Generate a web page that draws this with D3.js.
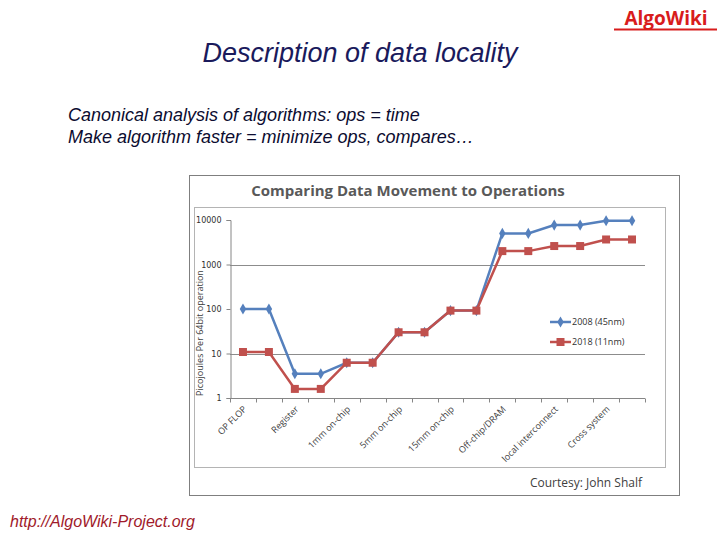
<!DOCTYPE html>
<meta charset="utf-8">
<style>
  body { margin: 0; background: #fff; }
  text { font-family: "Open Sans", "DejaVu Sans", sans-serif; }
  .slide { font-family: "Liberation Sans", Arial, sans-serif; font-style: italic; }
</style>
<body>
<div id="my_dataviz"></div>
<script src="https://d3js.org/d3.v7.min.js"></script>
<script>
// categories (each level shows two points, every second label shown)
var categories = ["OP FLOP", "OP FLOP b", "Register", "Register b", "1mm on-chip", "1mm on-chip b",
  "5mm on-chip", "5mm on-chip b", "15mm on-chip", "15mm on-chip b", "Off-chip/DRAM", "Off-chip/DRAM b",
  "local interconnect", "local interconnect b", "Cross system", "Cross system b"];
var tickLabels = ["OP FLOP", "", "Register", "", "1mm on-chip", "", "5mm on-chip", "",
  "15mm on-chip", "", "Off-chip/DRAM", "", "local interconnect", "", "Cross system", ""];
var values2008 = [100, 100, 3.5, 3.5, 6.2, 6.2, 30, 30, 92, 92, 5000, 5000, 7700, 7700, 9600, 9600];
var values2018 = [10.8, 10.8, 1.6, 1.6, 6.2, 6.2, 30, 30, 92, 92, 2000, 2000, 2600, 2600, 3650, 3650];
var yTicks = [1, 10, 100, 1000, 10000];
var gridValues = [10, 1000];
var seriesNames = ["2008 (45nm)", "2018 (11nm)"];

var svg = d3.select("#my_dataviz").append("svg")
  .attr("width", 720).attr("height", 540);

// slide texts
svg.append("text").attr("x", 666).attr("y", 25)
  .attr("text-anchor", "middle")
  .style("font-family", "'Open Sans', sans-serif").style("font-weight", "bold")
  .style("font-size", "19px").attr("fill", "#d81c1c")
  .text("AlgoWiki");
svg.append("line").attr("x1", 614).attr("x2", 717).attr("y1", 29.5).attr("y2", 29.5)
  .attr("stroke", "#d81c1c").attr("stroke-width", 2);

svg.append("text").attr("class", "slide").attr("x", 360).attr("y", 62)
  .attr("text-anchor", "middle").style("font-size", "27px").attr("fill", "#1a1a5c")
  .text("Description of data locality");

svg.append("text").attr("class", "slide").attr("x", 68).attr("y", 121)
  .style("font-size", "18px").attr("fill", "#0c0c30")
  .text("Canonical analysis of algorithms: ops = time");
svg.append("text").attr("class", "slide").attr("x", 68).attr("y", 143)
  .style("font-size", "18px").attr("fill", "#0c0c30")
  .text("Make algorithm faster = minimize ops, compares\u2026");

svg.append("text").attr("class", "slide").attr("x", 10).attr("y", 527)
  .style("font-size", "16px").attr("fill", "#a01a2a")
  .text("http://AlgoWiki-Project.org");

// chart frames
svg.append("rect").attr("x", 189.5).attr("y", 175.5).attr("width", 490).attr("height", 320)
  .attr("fill", "none").attr("stroke", "#7f7f7f");
svg.append("rect").attr("x", 194.5).attr("y", 207.5).attr("width", 471).attr("height", 260)
  .attr("fill", "none").attr("stroke", "#b4b4b4");

svg.append("text").attr("x", 408).attr("y", 196).attr("text-anchor", "middle")
  .style("font-weight", "bold").style("font-size", "15px").attr("fill", "#595959")
  .text("Comparing Data Movement to Operations");

var x = d3.scaleBand().domain(categories).range([230, 645]);
var y = d3.scaleLog().domain([1, 10000]).range([398, 220]);

// grid
svg.append("g").selectAll("line").data(gridValues).join("line")
  .attr("x1", 230).attr("x2", 645)
  .attr("y1", function (d) { return Math.round(y(d)) + 0.5; })
  .attr("y2", function (d) { return Math.round(y(d)) + 0.5; })
  .attr("stroke", "#8c8c8c");

// y axis
var yAxis = svg.append("g").attr("transform", "translate(230.5,0)")
  .call(d3.axisLeft(y).tickValues(yTicks).tickFormat(d3.format("d")).tickSize(4).tickPadding(5));
yAxis.select(".domain").attr("stroke", "#868686");
yAxis.selectAll(".tick line").attr("stroke", "#868686");
yAxis.selectAll("text").style("font-size", "8px").attr("fill", "#303030")
  .style("font-family", "'DejaVu Sans', sans-serif");

// x axis with ticks at category boundaries
var xg = svg.append("g").attr("transform", "translate(0,398.5)");
xg.append("line").attr("x1", 230).attr("x2", 645).attr("stroke", "#868686");
var bounds = categories.map(function (c) { return x(c); }).concat([x.range()[1]]);
xg.selectAll("line.tk").data(bounds).join("line").attr("class", "tk")
  .attr("x1", function (d) { return Math.round(d) + 0.5; })
  .attr("x2", function (d) { return Math.round(d) + 0.5; })
  .attr("y1", 0).attr("y2", 4).attr("stroke", "#868686");
xg.selectAll("text").data(categories).join("text")
  .attr("transform", function (d) {
    return "translate(" + (x(d) + x.bandwidth() / 2 + 2) + ",9) rotate(-45)";
  })
  .attr("text-anchor", "end").attr("dy", "0.35em")
  .style("font-size", "9px").attr("fill", "#404040")
  .text(function (d, i) { return tickLabels[i]; });

// y axis title
svg.append("text").attr("transform", "translate(203,333) rotate(-90)")
  .attr("text-anchor", "middle").style("font-size", "9px").attr("fill", "#404040")
  .text("Picojoules Per 64bit operation");

var colors = ["#5580bd", "#c0504d"];
var line = d3.line()
  .x(function (d, i) { return x(categories[i]) + x.bandwidth() / 2; })
  .y(function (d) { return y(d); });

[values2008, values2018].forEach(function (vals, s) {
  svg.append("path").datum(vals).attr("d", line)
    .attr("fill", "none").attr("stroke", colors[s]).attr("stroke-width", 2.5);
  var sym = s === 0 ? d3.symbolDiamond : d3.symbolSquare;
  svg.append("g").selectAll("path").data(vals).join("path")
    .attr("transform", function (d, i) {
      return "translate(" + (x(categories[i]) + x.bandwidth() / 2) + "," + y(d) + ")";
    })
    .attr("d", d3.symbol().type(sym).size(s === 0 ? 36 : 64))
    .attr("fill", colors[s]);
});

// legend
seriesNames.forEach(function (name, s) {
  var ly = 322 + s * 20;
  svg.append("line").attr("x1", 550).attr("x2", 571).attr("y1", ly).attr("y2", ly)
    .attr("stroke", colors[s]).attr("stroke-width", 2.5);
  svg.append("path").attr("transform", "translate(560.5," + ly + ")")
    .attr("d", d3.symbol().type(s === 0 ? d3.symbolDiamond : d3.symbolSquare).size(s === 0 ? 36 : 64))
    .attr("fill", colors[s]);
  svg.append("text").attr("x", 572).attr("y", ly).attr("dy", "0.35em")
    .style("font-size", "9px").attr("fill", "#303030").text(name);
});

svg.append("text").attr("x", 642).attr("y", 487).attr("text-anchor", "end")
  .style("font-size", "12px").attr("fill", "#404040").text("Courtesy: John Shalf");
</script>
</body>
